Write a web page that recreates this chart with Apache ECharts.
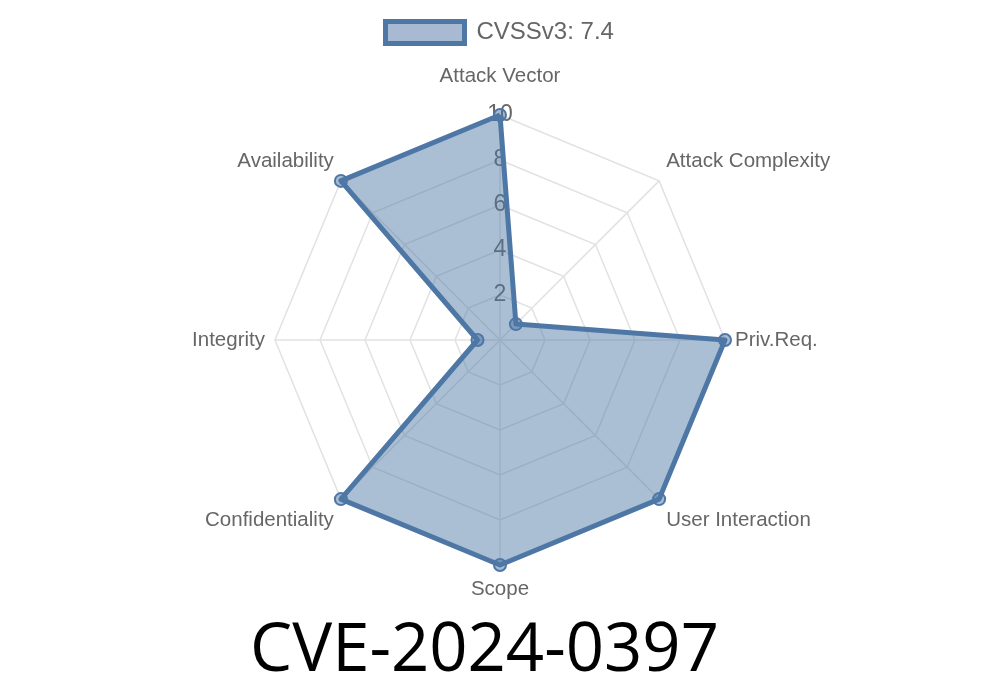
<!DOCTYPE html>
<html><head><meta charset="utf-8">
<script src="https://cdn.jsdelivr.net/npm/echarts@6/dist/echarts.min.js"></script>
<style>html,body{margin:0;padding:0;background:#fff}#c{width:1000px;height:700px}</style>
</head><body><div id="c"></div>
<script>
// clockwise order starting at top
const indicators = ['Attack Vector','Attack Complexity','Priv.Req.','User Interaction','Scope','Confidentiality','Integrity','Availability'];
const values = [10, 1, 10, 10, 10, 10, 1, 10];
const seriesName = 'CVSSv3: 7.4';
const titleText = 'CVE-2024-0397';
const maxVal = 10;
const tickStep = 2;

// ECharts radar goes counter-clockwise, so reverse all but the first
const order = [0].concat(indicators.map((_, i) => i).slice(1).reverse());
const indOrdered = order.map(i => indicators[i]);
const valOrdered = order.map(i => values[i]);

// label style group per clockwise position
const nameStyleKey = ['t', 'ud', 'm', 'ld', 's', 'ld', 'm', 'ud'];
const keyOf = {};
indicators.forEach((n, i) => keyOf[n] = nameStyleKey[i]);
const base = {color: '#666', fontFamily: 'Liberation Sans', fontSize: 20.5};

const chart = echarts.init(document.getElementById('c'));
chart.setOption({
  animation: false,
  title: {text: titleText, left: 245, top: 613, textStyle: {fontFamily: 'Open Sans', fontSize: 67, fontWeight: 'normal', color: '#000'}},
  legend: {top: 14, left: 378, itemWidth: 79, itemHeight: 22, itemGap: 10,
    textStyle: {fontFamily: 'Liberation Sans', fontSize: 24, color: '#666', padding: [0, 0, 0, 7]},
    data: [{name: seriesName, icon: 'rect', itemStyle: {color: '#a8bad2', borderColor: '#4e77a6', borderWidth: 5}}]},
  polar: {center: [500, 340], radius: 225},
  angleAxis: {startAngle: 90, show: false, min: 0, max: 360},
  radiusAxis: {min: 0, max: maxVal, interval: tickStep, axisLine: {show: false}, axisTick: {show: false}, splitLine: {show: false},
    axisLabel: {showMinLabel: false, color: '#666', fontFamily: 'Liberation Sans', fontSize: 23, margin: 0, align: 'center', verticalAlign: 'middle'}},
  radar: {
    center: [500, 340], radius: 225, startAngle: 90, shape: 'polygon', splitNumber: 5,
    indicator: indOrdered.map(n => ({name: n, max: maxVal, min: 0})),
    axisName: Object.assign({}, base, {
      formatter: n => '{' + keyOf[n] + '|' + n + '}',
      rich: {
        t: Object.assign({}, base, {padding: [0, 0, 18, 0]}),
        s: Object.assign({}, base, {padding: [4, 0, 0, 0]}),
        m: Object.assign({}, base),
        ud: Object.assign({}, base, {padding: [0, 0, 24, 0]}),
        ld: Object.assign({}, base, {padding: [28, 0, 0, 0]})
      }}),
    nameGap: 10,
    splitLine: {lineStyle: {color: '#e2e2e2', width: 1.5}},
    splitArea: {show: false},
    axisLine: {lineStyle: {color: '#e2e2e2', width: 1.5}},
    axisTick: {show: false},
    axisLabel: {show: false}
  },
  series: [{
    type: 'radar', name: seriesName,
    symbol: 'circle', symbolSize: 12,
    lineStyle: {color: '#4e77a6', width: 5},
    itemStyle: {color: 'rgba(78,119,166,0.5)', borderColor: '#4e77a6', borderWidth: 2},
    areaStyle: {color: '#4e77a6', opacity: 0.48},
    data: [{value: valOrdered, name: seriesName}]
  }]
});
</script>
</body></html>
